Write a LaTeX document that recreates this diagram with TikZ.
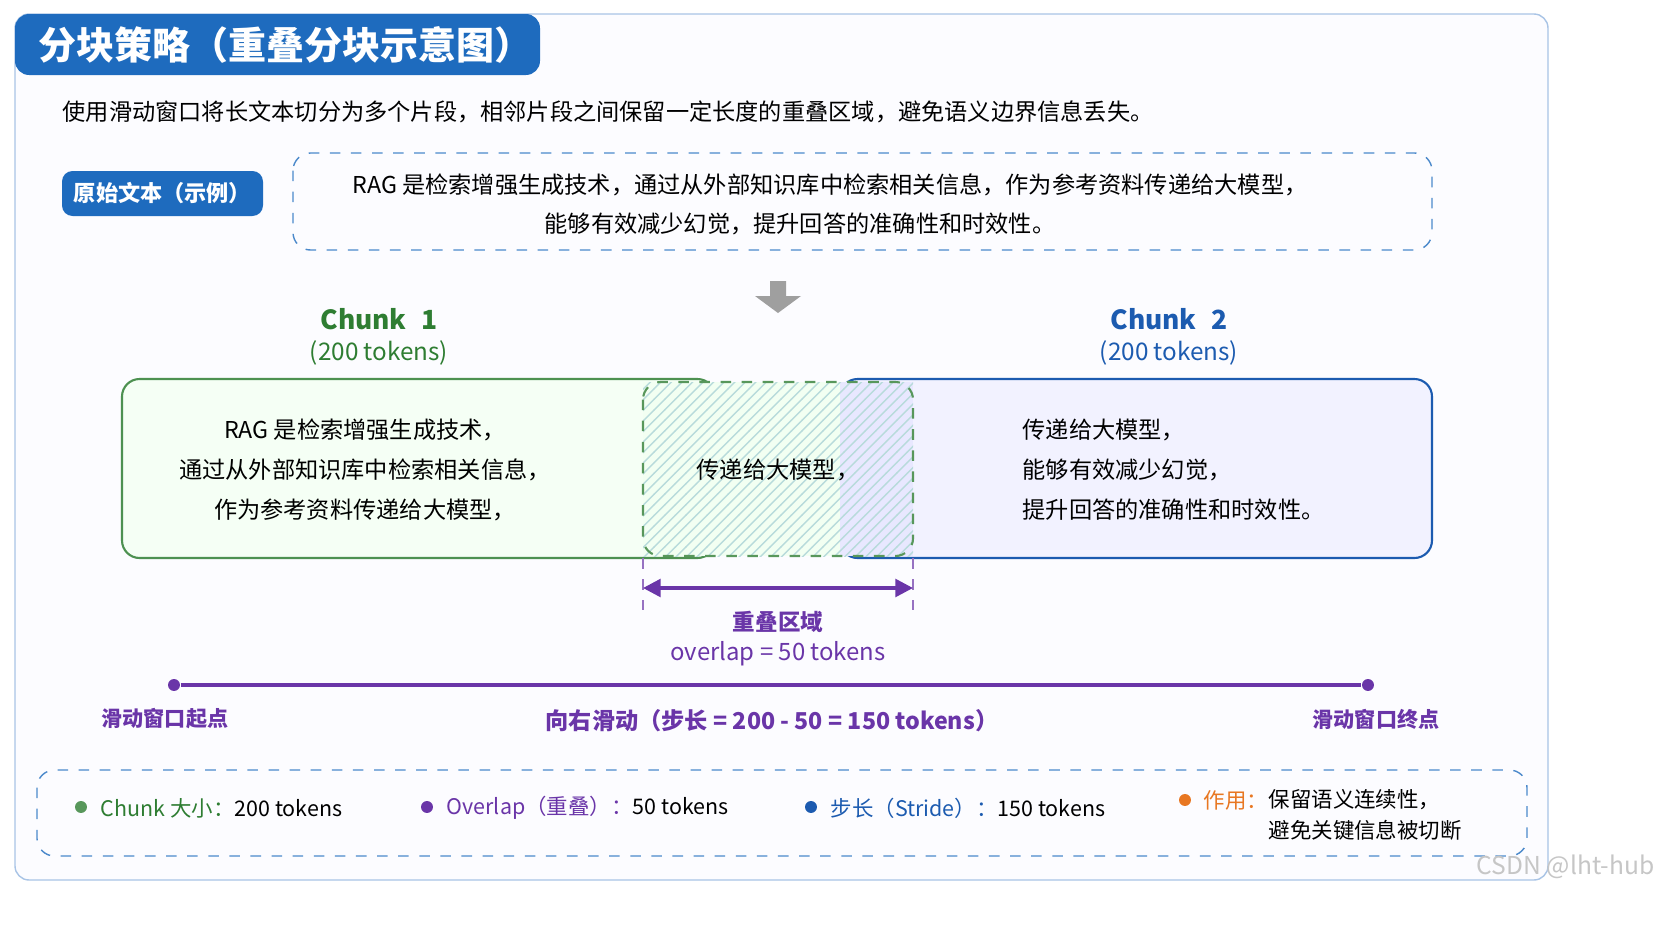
\documentclass[tikz,border=0pt]{standalone}
\usepackage{fontspec}
\setmainfont{Noto Sans CJK SC}
\usetikzlibrary{patterns,arrows.meta}
\definecolor{mainblue}{HTML}{1E6BBE}
\definecolor{chunkgreen}{HTML}{2E7D32}
\definecolor{chunkblue}{HTML}{1C5BB0}
\definecolor{ovpurple}{HTML}{6A35A8}
\definecolor{noteorange}{HTML}{E87722}
\definecolor{framegray}{HTML}{A9C4E6}

\begin{document}
\begin{tikzpicture}[x=0.01cm,y=-0.01cm,
	every node/.style={inner sep=0pt},
	body/.style={font=\fontsize{6.6}{8}\selectfont},
	legend/.style={font=\fontsize{6.1}{7}\selectfont},
	dot/.style={circle,minimum size=3.4pt}]

	\fill[white] (0,0) rectangle (1659,948);

	% frame and title
	\draw[framegray,fill=blue!1,rounded corners=4pt] (15,14) rectangle (1548,880);
	\fill[mainblue,rounded corners=4pt] (15,14) rectangle (540,75);
	\node[anchor=west,text=white,font=\fontsize{10.8}{12}\selectfont\bfseries] (title) at (38,45) {分块策略（重叠分块示意图）};
	\node[anchor=west,body] (intro) at (62,112) {使用滑动窗口将长文本切分为多个片段，相邻片段之间保留一定长度的重叠区域，避免语义边界信息丢失。};

	% original text
	\node[fill=mainblue,text=white,rounded corners=3pt,minimum width=201*0.01cm,minimum height=45*0.01cm,font=\fontsize{6.3}{7}\selectfont\bfseries] (origin) at (162.5,193.5) {原始文本（示例）};
	\draw[mainblue!80,dashed,rounded corners=5pt] (293,153) rectangle (1432,250);
	\node[body] (orig1) at (830,185) {RAG 是检索增强生成技术，通过从外部知识库中检索相关信息，作为参考资料传递给大模型，};
	\node[body] (orig2) at (800,224) {能够有效减少幻觉，提升回答的准确性和时效性。};
	\fill[gray!75] (770,281) rectangle (786,296) -- (801,296) -- (778,313) -- (755,296) -- (770,296) -- cycle;

	% chunks
	\node[text=chunkgreen,font=\fontsize{7.5}{9}\selectfont\bfseries] (c1) at (379,319) {Chunk\,\, 1};
	\node[text=chunkgreen,font=\fontsize{6.9}{8}\selectfont] (c1t) at (379,353) {(200 tokens)};
	\node[text=chunkblue,font=\fontsize{7.5}{9}\selectfont\bfseries] (c2) at (1169,319) {Chunk\,\, 2};
	\node[text=chunkblue,font=\fontsize{6.9}{8}\selectfont] (c2t) at (1169,353) {(200 tokens)};

	\draw[chunkgreen!85,fill=green!4,rounded corners=5pt,line width=0.6pt] (122,379) rectangle (715,558);
	\draw[chunkblue,fill=blue!5,rounded corners=5pt,line width=0.6pt] (840,379) rectangle (1432,558);
	\fill[green!5] (643,382) rectangle (840,556);
	\fill[blue!9] (840,382) rectangle (913,556);
	\fill[pattern=north east lines,pattern color=teal!28] (643,382) rectangle (913,556);
	\draw[chunkgreen!80,dashed,rounded corners=5pt,line width=0.6pt] (643,382) rectangle (913,556);

	\node[body] (g1) at (365,430) {RAG 是检索增强生成技术，};
	\node[body] (g2) at (365,470) {通过从外部知识库中检索相关信息，};
	\node[body] (g3) at (365,510) {作为参考资料传递给大模型，};
	\node[body] (ov) at (778,470) {传递给大模型，};
	\node[body,anchor=west] (b1) at (1022,430) {传递给大模型，};
	\node[body,anchor=west] (b2) at (1022,470) {能够有效减少幻觉，};
	\node[body,anchor=west] (b3) at (1022,510) {提升回答的准确性和时效性。};

	% overlap span
	\coordinate (ovl) at (643,588);
	\coordinate (ovr) at (913,588);
	\draw[ovpurple!70,dashed] (643,558) -- (643,610);
	\draw[ovpurple!70,dashed] (913,558) -- (913,610);
	\draw[ovpurple,line width=1pt,{Triangle[length=5pt,width=5pt]}-{Triangle[length=5pt,width=5pt]}] (ovl) -- (ovr);
	\node[text=ovpurple,font=\fontsize{6.4}{7}\selectfont\bfseries] (ovname) at (778,622) {重叠区域};
	\node[text=ovpurple,font=\fontsize{6.8}{8}\selectfont] (ovsize) at (778,654) {overlap = 50 tokens};

	% sliding line
	\node[dot,fill=ovpurple] (start) at (174,685) {};
	\node[dot,fill=ovpurple] (end) at (1368,685) {};
	\draw[ovpurple,line width=1pt] (start) -- (end);
	\node[text=ovpurple,font=\fontsize{6}{7}\selectfont\bfseries] (startl) at (165,719) {滑动窗口起点};
	\node[text=ovpurple,font=\fontsize{6}{7}\selectfont\bfseries] (endl) at (1376,719) {滑动窗口终点};
	\node[text=ovpurple,font=\fontsize{6.6}{8}\selectfont\bfseries] (slide) at (772,721) {向右滑动（步长 = 200 - 50 = 150 tokens）};

	% legend
	\draw[mainblue!80,dashed,rounded corners=5pt] (37,770) rectangle (1527,856);
	\node[dot,fill=chunkgreen!80] (d1) at (81,807) {};
	\node[legend,anchor=west] (l1) at (100,808) {\textcolor{chunkgreen}{Chunk 大小：}200 tokens};
	\node[dot,fill=ovpurple] (d2) at (427,807) {};
	\node[legend,anchor=west] (l2) at (446,808) {\textcolor{ovpurple}{Overlap（重叠）：}50 tokens};
	\node[dot,fill=chunkblue] (d3) at (811,807) {};
	\node[legend,anchor=west] (l3) at (830,808) {\textcolor{chunkblue}{步长（Stride）：}150 tokens};
	\node[dot,fill=noteorange] (d4) at (1185,800) {};
	\node[legend,anchor=west,text=noteorange] (l4) at (1203,800) {作用：};
	\node[legend,anchor=west] (l4a) at (1268,800) {保留语义连续性，};
	\node[legend,anchor=west] (l4b) at (1268,830) {避免关键信息被切断};

	\node[text=gray!45,font=\fontsize{7}{8}\selectfont,anchor=east] (mark) at (1655,867) {CSDN @lht-hub};

	\pgfresetboundingbox
	\useasboundingbox (0,0) rectangle (1659,948);
\end{tikzpicture}
\end{document}
